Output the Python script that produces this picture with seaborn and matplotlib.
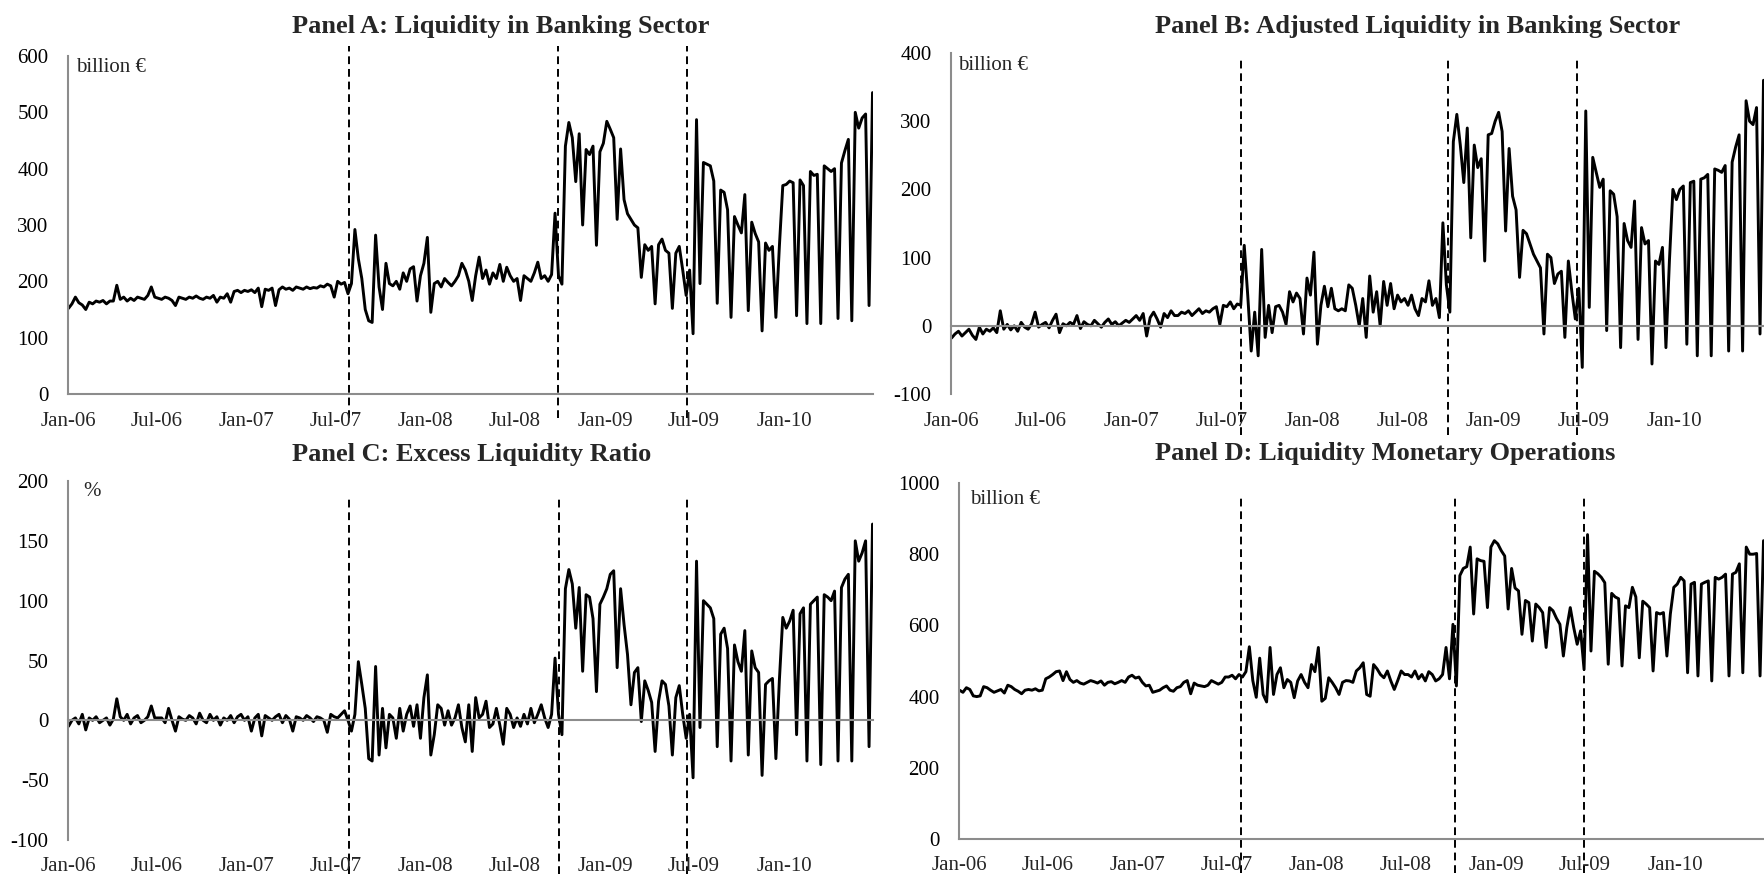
import numpy as np
import pandas as pd
import matplotlib
matplotlib.use("Agg")
import matplotlib.pyplot as plt
import matplotlib.dates as mdates
import seaborn as sns

# weekly readings, one row per half-year (Jan-06 .. Jun-10)
liq_a = [
    152, 160, 172, 162, 158, 150, 163, 160, 165, 163, 166, 160, 165, 165, 193, 168, 172, 165, 170, 166, 172, 170, 168, 175, 190, 172,
    170, 168, 172, 170, 166, 157, 172, 170, 168, 172, 170, 174, 170, 168, 172, 170, 175, 163, 172, 170, 178, 163, 182, 184, 180, 184,
    182, 185, 180, 188, 155, 186, 184, 188, 157, 185, 190, 186, 188, 184, 190, 188, 186, 190, 187, 189, 188, 192, 190, 195, 192, 172,
    200, 195, 198, 178, 196, 292, 240, 205, 150, 130, 127, 282, 190, 150, 232, 196, 192, 200, 186, 215, 200, 222, 226, 165, 210, 232,
    278, 145, 196, 200, 190, 205, 198, 192, 200, 210, 232, 220, 200, 166, 210, 243, 205, 220, 195, 215, 205, 230, 200, 225, 210, 200,
    205, 166, 210, 205, 200, 215, 234, 205, 210, 200, 212, 321, 210, 195, 440, 482, 455, 377, 462, 300, 434, 425, 440, 264, 430, 445,
    484, 470, 455, 310, 435, 345, 320, 310, 300, 295, 207, 265, 255, 262, 160, 265, 275, 255, 250, 152, 250, 262, 220, 175, 220, 107,
    487, 196, 411, 408, 405, 378, 161, 362, 358, 327, 136, 315, 300, 286, 354, 148, 305, 285, 270, 112, 268, 255, 262, 136, 261, 370,
    372, 378, 375, 139, 380, 370, 125, 395, 388, 390, 125, 405, 400, 395, 400, 134, 410, 432, 452, 130, 500, 472, 490, 497, 157, 535,
]

liq_b = [
    -18, -12, -8, -15, -10, -5, -14, -20, -2, -12, -5, -8, -3, -10, 22, -5, 2, -6, 0, -8, 5, -2, -5, 3, 20, -2,
    2, 5, -3, 8, 17, -10, 3, 0, 5, 2, 15, -4, 6, 2, 0, 8, 3, -2, 5, 10, 2, 6, 0, 4, 8, 5,
    10, 15, 8, 18, -15, 12, 20, 10, -2, 18, 12, 22, 15, 15, 20, 18, 22, 15, 20, 25, 18, 22, 20, 25, 28, 2,
    30, 28, 35, 25, 32, 30, 118, 45, -37, 20, -44, 112, -17, 30, -10, 28, 30, 20, 2, 50, 35, 48, 40, -12, 70, 45,
    108, -27, 30, 58, 28, 55, 25, 22, 25, 22, 60, 55, 30, 0, 40, -17, 73, 20, 50, 0, 65, 30, 62, 25, 45, 35,
    40, 30, 45, 25, 15, 40, 35, 66, 30, 40, 12, 151, 60, 20, 270, 310, 265, 210, 290, 129, 265, 232, 245, 95, 280, 282,
    300, 313, 285, 139, 260, 190, 170, 71, 140, 135, 120, 105, 95, 85, -12, 105, 100, 62, 76, 80, -17, 95, 50, 10, 55, -61,
    315, 27, 247, 225, 203, 215, -7, 198, 193, 160, -32, 150, 125, 115, 183, -20, 144, 120, 125, -56, 95, 90, 115, -32, 95, 200,
    185, 200, 205, -27, 210, 212, -44, 215, 217, 222, -44, 230, 228, 225, 235, -37, 240, 262, 280, -37, 330, 300, 295, 320, -12, 360,
]

ratio_c = [
    -5, 0, 2, -3, 5, -8, 2, 0, 3, -2, 0, 2, -4, 1, 18, 3, 0, 5, -3, 2, 4, -2, 0, 3, 12, 2,
    2, 2, -2, 10, 0, -9, 3, 1, 0, 4, 2, -3, 6, 0, -2, 5, 0, 3, -4, 2, 0, 4, -2, 3, 5, 0,
    3, -9, 2, 5, -13, 4, 2, 0, 3, 5, -2, 4, 1, -9, 3, 2, 0, 4, 2, -1, 3, 2, 0, -10, 5, 3,
    2, 5, 8, 0, -9, 5, 49, 30, 10, -32, -34, 45, -29, 10, -23, 5, 2, -15, 10, -9, 5, 12, -5, 13, -15, 19,
    38, -29, -12, 13, 10, -4, 8, -4, 2, 13, -6, -18, 13, -26, 19, 2, 5, 16, -6, -3, 10, -4, -20, 10, 5, -6,
    2, -5, 5, -3, 10, -2, 5, 13, 2, -6, 5, 52, 5, -12, 110, 126, 114, 77, 111, 41, 105, 103, 85, 24, 97, 103,
    110, 122, 125, 44, 110, 80, 55, 13, 40, 44, -1, 33, 25, 15, -26, 16, 33, 30, 12, -29, 19, 29, 5, -15, 5, -48,
    133, -6, 100, 97, 94, 85, -22, 72, 77, 60, -34, 63, 49, 41, 75, -29, 58, 44, 40, -46, 30, 33, 35, -32, 33, 86,
    77, 83, 92, -12, 89, 94, -34, 97, 100, 103, -37, 105, 103, 100, 108, -34, 111, 118, 122, -34, 150, 133, 140, 150, -22, 164,
]

ops_d = [
    418, 412, 425, 420, 402, 400, 402, 428, 425, 418, 412, 416, 420, 410, 432, 428, 420, 415, 408, 418, 420, 418, 422, 416, 418, 450,
    455, 462, 470, 472, 445, 470, 448, 440, 445, 438, 435, 440, 445, 442, 438, 444, 432, 440, 442, 436, 440, 445, 440, 455, 460, 452,
    455, 440, 430, 432, 412, 415, 418, 425, 430, 418, 415, 425, 428, 440, 445, 408, 438, 432, 430, 428, 432, 445, 440, 435, 440, 455,
    455, 460, 450, 462, 455, 470, 540, 445, 398, 508, 406, 385, 538, 406, 462, 481, 425, 448, 440, 397, 444, 462, 440, 425, 490, 470,
    538, 387, 395, 453, 440, 425, 406, 440, 445, 444, 440, 472, 481, 495, 406, 401, 490, 478, 462, 453, 472, 444, 420, 445, 472, 462,
    462, 455, 472, 450, 462, 444, 470, 462, 444, 450, 462, 538, 450, 603, 430, 740, 760, 765, 820, 632, 787, 782, 780, 650, 820, 838,
    829, 810, 795, 646, 760, 705, 697, 575, 670, 664, 556, 660, 650, 636, 538, 650, 641, 620, 603, 514, 594, 650, 594, 547, 585, 476,
    855, 528, 752, 745, 735, 720, 491, 690, 680, 675, 486, 655, 650, 707, 680, 509, 668, 660, 650, 472, 636, 632, 636, 514, 632, 707,
    716, 735, 725, 467, 716, 721, 458, 716, 721, 725, 444, 735, 730, 735, 744, 458, 744, 749, 773, 467, 820, 800, 800, 802, 458, 838,
]

tick_dates = ["2006-01-01", "2006-07-01", "2007-01-01", "2007-07-01", "2008-01-01",
              "2008-07-01", "2009-01-01", "2009-07-01", "2010-01-01", "2010-07-01"]
tick_labels = ["Jan-06", "Jul-06", "Jan-07", "Jul-07", "Jan-08",
               "Jul-08", "Jan-09", "Jul-09", "Jan-10", ""]

# dashed event markers, as placed in each panel of the original
events_a = ["2007-07-28", "2008-09-27", "2009-06-16"]
events_b = ["2007-08-10", "2008-09-30", "2009-06-19"]
events_c = ["2007-07-28", "2008-09-28", "2009-06-16"]
events_d = ["2007-07-31", "2008-10-09", "2009-06-29"]

titles = ["Panel A: Liquidity in Banking Sector",
          "Panel B: Adjusted Liquidity in Banking Sector",
          "Panel C: Excess Liquidity Ratio",
          "Panel D: Liquidity Monetary Operations"]
units = ["billion €", "billion €", "%", "billion €"]

sns.set_style("white")
plt.rcParams["font.family"] = ["Liberation Serif", "DejaVu Serif"]
plt.rcParams["axes.unicode_minus"] = False

W, H = 1764, 875
GREY = "#8c8c8c"
fig = plt.figure(figsize=(W / 100, H / 100), dpi=100)


def px_axes(left, right, top, bottom):
    return fig.add_axes([left / W, 1 - bottom / H, (right - left) / W, (bottom - top) / H])


# values, (left, right, top, bottom) px, y-range, ticks, events, dashed extent, label offset, title pos, unit pos
panels = [
    (liq_a, (68, 873, 56, 394), (0, 600), range(0, 601, 100), events_a, (-0.07, 1.03), -20, (292, 33), (76, 67)),
    (liq_b, (951, 1764, 53, 394), (-100, 400), range(-100, 401, 100), events_b, (-0.12, 0.99), -20, (1155, 33), (958, 66)),
    (ratio_c, (68, 873, 481, 840), (-100, 200), range(-100, 201, 50), events_c, (-0.095, 0.96), -19, (292, 461), (83, 492)),
    (ops_d, (959, 1764, 483, 839), (0, 1000), range(0, 1001, 200), events_d, (-0.095, 0.965), -19, (1155, 460), (970, 500)),
]

xmin, xmax = pd.Timestamp("2006-01-01"), pd.Timestamp("2010-07-01")

for i, (vals, box, ylim, yt, events, dash_ext, lab_off, tpos, upos) in enumerate(panels):
    ax = px_axes(*box)
    dates = pd.date_range("2006-01-02", "2010-06-30", periods=len(vals))
    df = pd.DataFrame({"date": dates, "value": vals})
    sns.lineplot(data=df, x="date", y="value", ax=ax, color="black",
                 linewidth=2.1, estimator=None, sort=False)
    ax.set_xlim(xmin, xmax)
    ax.set_ylim(*ylim)
    ax.set_xlabel("")
    ax.set_ylabel("")
    ax.set_yticks(list(yt))
    ax.set_yticklabels([str(v) for v in yt])
    ax.set_xticks([mdates.date2num(pd.Timestamp(d)) for d in tick_dates])
    ax.tick_params(axis="y", direction="out", length=5, width=1.1, color=GREY,
                   labelsize=15, pad=9, labelcolor="black")
    ax.tick_params(axis="x", direction="inout", length=8, width=1.1, color=GREY,
                   labelbottom=False)
    for s in ["top", "right"]:
        ax.spines[s].set_visible(False)
    ax.spines["left"].set_color(GREY)
    ax.spines["left"].set_linewidth(1.5)
    ax.spines["bottom"].set_color(GREY)
    ax.spines["bottom"].set_linewidth(1.5)
    ax.spines["bottom"].set_position(("data", 0))
    ax.set_facecolor("none")

    for d, lbl in zip(tick_dates, tick_labels):
        ax.annotate(lbl, xy=(mdates.date2num(pd.Timestamp(d)), 0),
                    xycoords=ax.get_xaxis_transform(), xytext=(0, lab_off),
                    textcoords="offset points", ha="center", va="center",
                    fontsize=15)

    for d in events:
        xd = mdates.date2num(pd.Timestamp(d))
        ax.plot([xd, xd], list(dash_ext), transform=ax.get_xaxis_transform(),
                color="black", linewidth=1.4, linestyle=(0, (4, 2.5)), clip_on=False)

    fig.text(tpos[0] / W, 1 - tpos[1] / H, titles[i], fontsize=19,
             fontweight="bold", ha="left", va="baseline")
    fig.text(upos[0] / W, 1 - upos[1] / H, units[i], fontsize=15,
             ha="left", va="center")

fig.savefig("out.png", dpi=100)
